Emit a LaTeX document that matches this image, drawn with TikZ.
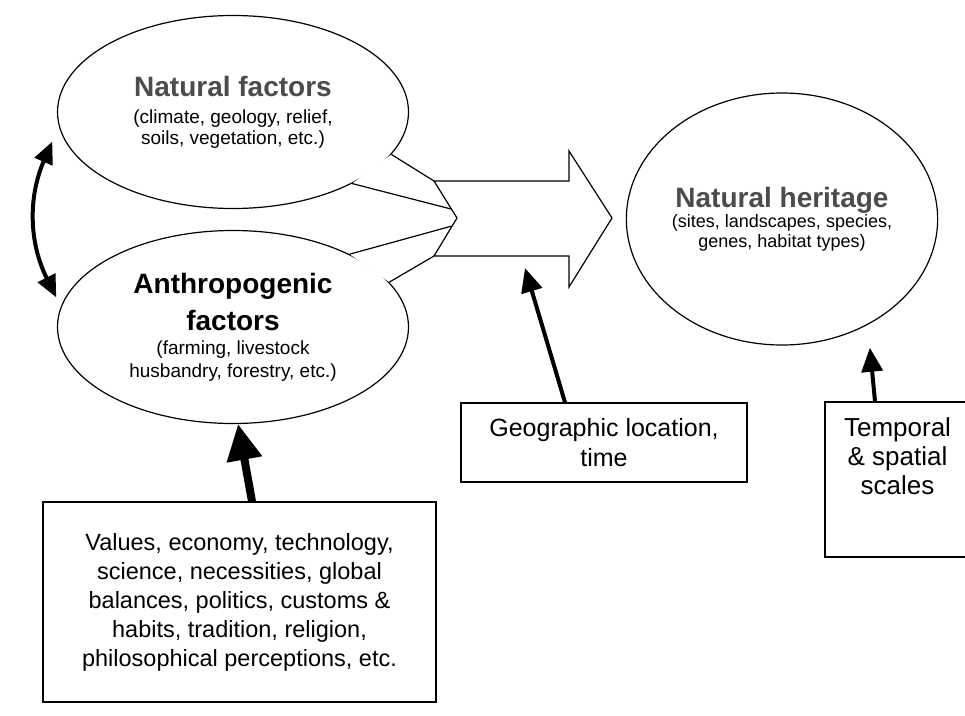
\documentclass[tikz,border=0pt]{standalone}
\usepackage{fontspec}
\setmainfont{Liberation Sans}
\usetikzlibrary{arrows.meta,calc,shapes.geometric}
\newcommand{\ttl}{\fontsize{28}{30}\bfseries\selectfont}
\newcommand{\sbt}[1]{\fontsize{#1}{#1}\mdseries\selectfont}

\begin{document}
\begin{tikzpicture}[x=1pt, y=-1pt,
    factor/.style={ellipse, draw, line width=1.2pt, fill=white, minimum width=351pt, minimum height=193pt, align=center, inner sep=0pt, font=\fontsize{19}{21}\selectfont},
    infobox/.style={rectangle, draw, line width=1.2pt, align=center, inner sep=0pt},
    thickarr/.style={line width=4pt, -{Triangle[length=24pt,width=21pt]}},
    dblarr/.style={line width=4pt, {Triangle[length=22pt,width=19pt]}-{Triangle[length=22pt,width=19pt]}}]
    \useasboundingbox (0,0) rectangle (965,715);
        % factors and heritage
        \node[factor] (nat) at (233,112) {\ttl\color{black!70}Natural factors\\[6pt] \sbt{19}(climate, geology, relief,\\ \sbt{19}soils, vegetation, etc.)};
        \node[factor] (anth) at (233,327) {\ttl Anthropogenic\\[10pt] \ttl factors\\[3pt] \sbt{19}(farming, livestock\\[2pt] \sbt{19}husbandry, forestry, etc.)};
        \node[factor, minimum width=308pt, minimum height=252pt, font=\fontsize{18}{20}\selectfont] (her) at (782,219) {\ttl\color{black!70}Natural heritage\\ \sbt{18}(sites, landscapes, species,\\ \sbt{18}genes, habitat types)};
        % boxes
        \node[infobox, minimum width=393pt, minimum height=200pt, font=\fontsize{23.5}{29}\selectfont] (val) at (239.5,602) {Values, economy, technology,\\ science, necessities, global\\ balances, politics, customs \&\\ habits, tradition, religion,\\ philosophical perceptions, etc.};
        \node[infobox, minimum width=286pt, minimum height=79pt, font=\fontsize{25}{30}\selectfont] (geo) at (604,442.5) {Geographic location,\\ time};
        \node[infobox, minimum width=145pt, minimum height=155pt, font=\fontsize{26}{29}\selectfont] (temp) at (897.5,479.5) {Temporal\\ \& spatial\\ scales\\[18pt] \mbox{}};
        % big arrow
        \coordinate (c1) at (434,181);
        \coordinate (c2) at (434,256);
        \coordinate (notch) at (457,218);
        \coordinate (p1) at (451,209);
        \coordinate (p2) at (452,226);
        \coordinate (geotip) at (525,268);
        \fill[white] (nat.-15) -- (c1) -- (notch) -- (p1) -- (nat.-31) -- cycle;
        \fill[white] (anth.32) -- (p2) -- (notch) -- (c2) -- (anth.16) -- cycle;
        \foreach \a/\b in {nat.-15/c1, nat.-31/p1, anth.32/p2, anth.16/c2}
        {
            \draw[line width=1.2pt] (\a) -- (\b);
        }
        \draw[line width=1.2pt, line join=miter] (c1) -- (569,181) -- (569,151) -- (612,218) -- (569,287) -- (569,256) -- (c2) -- (notch) -- cycle;
        % influences
        \draw[dblarr] ([xshift=-13]nat.190) to[bend right=25] ([xshift=-9]anth.170);
        \draw[line width=8pt, -{Triangle[length=36pt,width=34pt]}] ([xshift=12.5]val.north) -- (anth.-87);
        \draw[thickarr] ([xshift=-39]geo.north) -- (geotip);
        \draw[thickarr, shorten >=23pt] ([xshift=-22.5]temp.north) -- (her.-51);
\end{tikzpicture}
\end{document}
